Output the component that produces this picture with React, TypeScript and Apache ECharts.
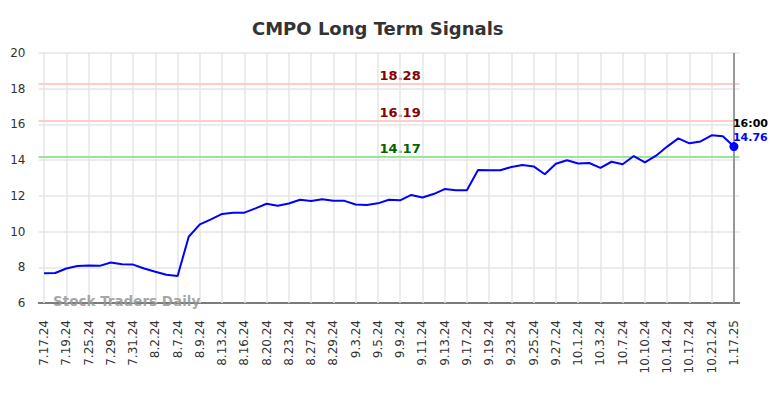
import React, { useEffect, useRef } from "react";
import * as echarts from "echarts";

const dates: string[] = [
  "7.17.24", "7.18.24", "7.19.24", "7.23.24", "7.25.24", "7.26.24", "7.29.24", "7.30.24",
  "7.31.24", "8.1.24", "8.2.24", "8.6.24", "8.7.24", "8.8.24", "8.9.24", "8.12.24",
  "8.13.24", "8.15.24", "8.16.24", "8.19.24", "8.20.24", "8.22.24", "8.23.24", "8.26.24",
  "8.27.24", "8.28.24", "8.29.24", "8.30.24", "9.3.24", "9.4.24", "9.5.24", "9.6.24",
  "9.9.24", "9.10.24", "9.11.24", "9.12.24", "9.13.24", "9.16.24", "9.17.24", "9.18.24",
  "9.19.24", "9.20.24", "9.23.24", "9.24.24", "9.25.24", "9.26.24", "9.27.24", "9.30.24",
  "10.1.24", "10.2.24", "10.3.24", "10.4.24", "10.7.24", "10.8.24", "10.10.24", "10.11.24",
  "10.14.24", "10.15.24", "10.17.24", "10.18.24", "10.21.24", "10.22.24", "1.17.25",
];

const prices: number[] = [
  7.66, 7.68, 7.93, 8.07, 8.1, 8.08, 8.27, 8.17,
  8.15, 7.93, 7.75, 7.58, 7.51, 9.71, 10.4, 10.68,
  10.99, 11.06, 11.06, 11.3, 11.56, 11.45, 11.57, 11.78,
  11.71, 11.81, 11.73, 11.72, 11.52, 11.49, 11.58, 11.78,
  11.75, 12.05, 11.91, 12.1, 12.38, 12.32, 12.32, 13.45,
  13.43, 13.43, 13.62, 13.73, 13.65, 13.21, 13.8, 13.99,
  13.81, 13.84, 13.57, 13.91, 13.77, 14.23, 13.87, 14.25,
  14.76, 15.22, 14.94, 15.05, 15.39, 15.34, 14.76,
];

const levelValues: number[] = [18.28, 16.19, 14.17];
const levelLineColors: string[] = ["#ffcccc", "#ffcccc", "#99e699"];
const levelTextColors: string[] = ["#8b0000", "#8b0000", "#006400"];

const lastTimeLabel = "16:00";
const titleText = "CMPO Long Term Signals";
const watermark = "Stock Traders Daily";

export default function App() {
  const ref = useRef<HTMLDivElement>(null);

  useEffect(() => {
    if (!ref.current) return;
    const chart = echarts.init(ref.current, null, { renderer: "svg" });
    const lastIdx = dates.length - 1;
    const labelIdx = Math.ceil(dates.length / 2);
    const gridCats = dates.filter((_, i) => i % 2 === 0 && i !== lastIdx);

    chart.setOption({
      animation: false,
      backgroundColor: "#ffffff",
      title: {
        text: titleText,
        left: 247,
        top: 14,
        textStyle: { fontSize: 18, fontWeight: "bold", color: "#333333", fontFamily: "DejaVu Sans" },
      },
      grid: { left: 38.5, right: 44.5, top: 53, bottom: 95, containLabel: false },
      xAxis: {
        type: "category",
        boundaryGap: true,
        data: dates,
        axisLine: { show: true, lineStyle: { color: "#555555", width: 1.5 } },
        axisTick: { show: false },
        splitLine: { show: false },
        axisLabel: {
          interval: 1,
          rotate: 90,
          fontSize: 12,
          margin: 17,
          color: "#333333",
          fontFamily: "DejaVu Sans",
        },
      },
      yAxis: {
        type: "value",
        min: 6,
        max: 20,
        interval: 2,
        axisLine: { show: false },
        axisTick: { show: false },
        splitLine: { show: true, lineStyle: { color: "#e6e6e6", width: 1.5 } },
        axisLabel: { fontSize: 12, margin: 13, color: "#333333", fontFamily: "DejaVu Sans" },
      },
      graphic: [
        {
          type: "text",
          left: 53,
          top: 294,
          z: 10,
          style: {
            text: watermark,
            fontSize: 13.5,
            fontWeight: "bold",
            fontFamily: "DejaVu Sans",
            fill: "rgba(150,150,150,0.85)",
          },
        },
      ],
      series: [
        {
          type: "scatter",
          data: [],
          z: 1,
          silent: true,
          markLine: {
            silent: true,
            symbol: "none",
            label: { show: false },
            lineStyle: { color: "#e6e6e6", width: 1.5, type: "solid" },
            data: gridCats.map((c) => ({ xAxis: c })),
          },
        },
        {
          type: "scatter",
          data: [],
          z: 2,
          silent: true,
          markLine: {
            silent: true,
            symbol: "none",
            label: { show: false },
            data: levelValues.map((v, i) => ({
              yAxis: v,
              lineStyle: { color: levelLineColors[i], width: 2, type: "solid", opacity: 1 },
            })),
          },
        },
        {
          type: "scatter",
          z: 4,
          silent: true,
          symbolSize: 0,
          itemStyle: { opacity: 1 },
          data: levelValues.map((v, i) => ({
            value: [dates[labelIdx], v],
            label: {
              show: true,
              position: "top",
              distance: 2,
              formatter: v.toFixed(2),
              color: levelTextColors[i],
              opacity: 1,
              fontSize: 13,
              fontWeight: "bold",
              fontFamily: "DejaVu Sans",
            },
          })),
        },
        {
          type: "line",
          z: 5,
          data: prices.map((p, i) =>
            i === lastIdx
              ? {
                  value: p,
                  symbol: "circle",
                  symbolSize: 9,
                  itemStyle: { color: "#0000ff" },
                  label: {
                    show: true,
                    position: [3.5, -26],
                    formatter: `{t|${lastTimeLabel}}\n{v|${p.toFixed(2)}}`,
                    rich: {
                      t: { fontSize: 11, fontWeight: "bold", color: "#000000", lineHeight: 14, fontFamily: "DejaVu Sans" },
                      v: { fontSize: 11, fontWeight: "bold", color: "#0000ff", lineHeight: 14, fontFamily: "DejaVu Sans" },
                    },
                  },
                }
              : { value: p, symbol: "none" }
          ),
          showSymbol: true,
          lineStyle: { color: "#0000ff", width: 2 },
          itemStyle: { color: "#0000ff" },
          markLine: {
            silent: true,
            symbol: "none",
            label: { show: false },
            lineStyle: { color: "#999999", width: 2, type: "solid" },
            data: [{ xAxis: dates[lastIdx] }],
          },
        },
      ],
    });
    return () => chart.dispose();
  }, []);

  return <div ref={ref} style={{ position: "absolute", left: 0, top: 0, width: 784, height: 398 }} />;
}
